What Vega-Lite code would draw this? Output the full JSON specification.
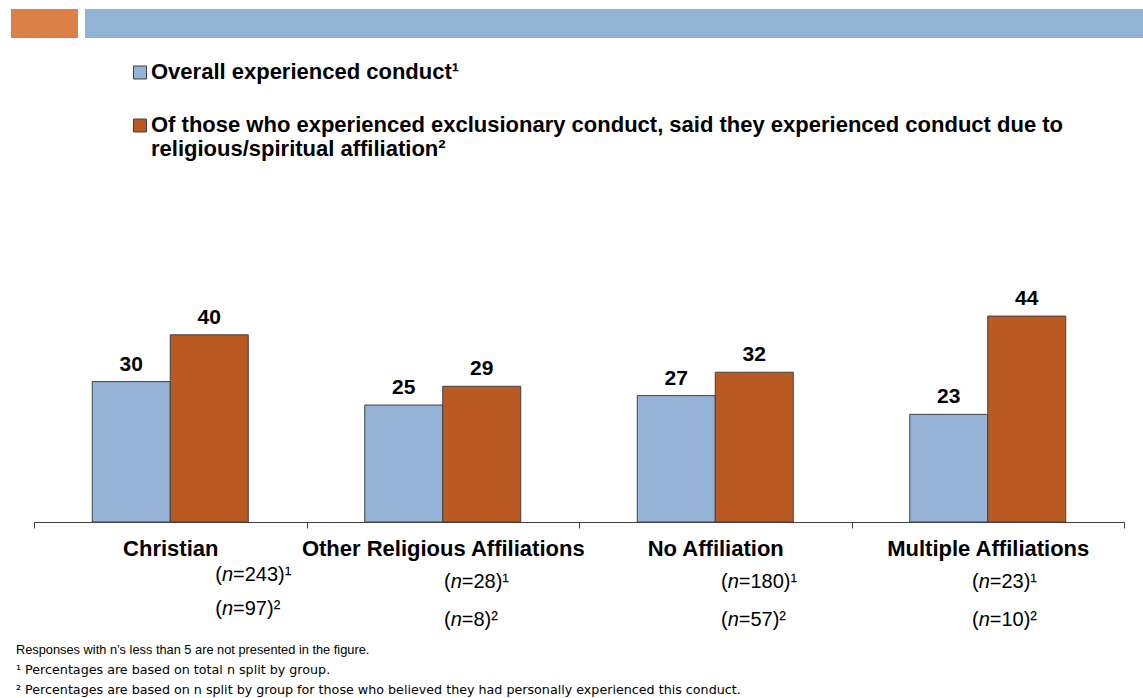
{
  "$schema": "https://vega.github.io/schema/vega-lite/v6.json",
  "autosize": {"type": "none"},
  "width": 1090,
  "height": 234,
  "padding": {"left": 34, "top": 288, "right": 19, "bottom": 176},
  "background": "white",
  "config": {"view": {"stroke": null}, "font": "Liberation Sans"},
  "title": {
    "text": "\u2002Responses with n\u2019s less than 5 are not presented in the figure.",
    "orient": "bottom",
    "anchor": "start",
    "frame": "group",
    "dx": -18,
    "offset": 14,
    "font": "Liberation Sans",
    "fontSize": 12.8,
    "fontWeight": "normal",
    "color": "black",
    "subtitle": [
      "\u00b9 Percentages are based on total n split by group.",
      "\u00b2 Percentages are based on n split by group for those who believed they had personally experienced this conduct."
    ],
    "subtitleFont": "DejaVu Sans",
    "subtitleFontSize": 12.7,
    "subtitleColor": "black",
    "subtitleLineHeight": 20,
    "subtitlePadding": 7
  },
  "datasets": {
    "rates": [
      {"group": "Christian", "series": "Overall experienced conduct\u00b9", "value": 30},
      {"group": "Christian", "series": "Of those who experienced exclusionary conduct, said they experienced conduct due to religious/spiritual affiliation\u00b2", "value": 40},
      {"group": "Other Religious Affiliations", "series": "Overall experienced conduct\u00b9", "value": 25},
      {"group": "Other Religious Affiliations", "series": "Of those who experienced exclusionary conduct, said they experienced conduct due to religious/spiritual affiliation\u00b2", "value": 29},
      {"group": "No Affiliation", "series": "Overall experienced conduct\u00b9", "value": 27},
      {"group": "No Affiliation", "series": "Of those who experienced exclusionary conduct, said they experienced conduct due to religious/spiritual affiliation\u00b2", "value": 32},
      {"group": "Multiple Affiliations", "series": "Overall experienced conduct\u00b9", "value": 23},
      {"group": "Multiple Affiliations", "series": "Of those who experienced exclusionary conduct, said they experienced conduct due to religious/spiritual affiliation\u00b2", "value": 44}
    ],
    "samples": [
      {"group": "Christian", "n_overall": 243, "n_conduct": 97},
      {"group": "Other Religious Affiliations", "n_overall": 28, "n_conduct": 8},
      {"group": "No Affiliation", "n_overall": 180, "n_conduct": 57},
      {"group": "Multiple Affiliations", "n_overall": 23, "n_conduct": 10}
    ]
  },
  "layer": [
    {
      "data": {"values": [{"part": "accent"}]},
      "mark": {"type": "rect", "color": "#DD8047", "x": -23, "x2": 44, "y": -279, "y2": -250},
      "encoding": {}
    },
    {
      "data": {"values": [{"part": "band"}]},
      "mark": {"type": "rect", "color": "#93B3D2", "x": 51, "x2": 1109, "y": -279, "y2": -250},
      "encoding": {}
    },
    {
      "data": {"name": "rates"},
      "mark": {"type": "bar", "stroke": "#404040", "strokeWidth": 1},
      "encoding": {
        "x": {
          "field": "group", "type": "nominal",
          "sort": ["Christian", "Other Religious Affiliations", "No Affiliation", "Multiple Affiliations"],
          "scale": {"domain": ["Christian", "Other Religious Affiliations", "No Affiliation", "Multiple Affiliations"], "paddingInner": 0, "paddingOuter": 0},
          "axis": {
            "title": null,
            "domainColor": "#404040",
            "tickColor": "#404040",
            "tickSize": 6,
            "tickBand": "extent",
            "labelFont": "Liberation Sans",
            "labelFontSize": 22,
            "labelFontWeight": "bold",
            "labelColor": "black",
            "labelBaseline": "alphabetic",
            "labelPadding": 27,
            "labelAngle": 0,
            "labelLimit": 400,
            "labelOverlap": false
          }
        },
        "xOffset": {
          "field": "series", "type": "nominal",
          "sort": ["Overall experienced conduct\u00b9", "Of those who experienced exclusionary conduct, said they experienced conduct due to religious/spiritual affiliation\u00b2"],
          "scale": {"paddingInner": 0, "paddingOuter": 0.747}
        },
        "y": {"field": "value", "type": "quantitative", "scale": {"domain": [0, 50]}, "axis": null},
        "color": {
          "field": "series", "type": "nominal",
          "sort": ["Overall experienced conduct\u00b9", "Of those who experienced exclusionary conduct, said they experienced conduct due to religious/spiritual affiliation\u00b2"],
          "scale": {"range": ["#95B3D7", "#BA5A23"]},
          "legend": {
            "orient": "none",
            "legendX": 95,
            "legendY": -220,
            "title": null,
            "direction": "vertical",
            "padding": 0,
            "symbolType": "M-1,-2H1V0H-1Z",
            "symbolSize": 169,
            "symbolStrokeColor": "#404040",
            "symbolStrokeWidth": 1,
            "symbolOpacity": 1,
            "labelFont": "Liberation Sans",
            "labelFontSize": 22,
            "labelFontWeight": "bold",
            "labelColor": "black",
            "labelBaseline": "alphabetic",
            "labelOffset": 0,
            "labelLimit": 1200,
            "rowPadding": 31,
            "labelExpr": "datum.label == 'Overall experienced conduct\u00b9' ? datum.label : ['Of those who experienced exclusionary conduct, said they experienced conduct due to', 'religious/spiritual affiliation\u00b2']"
          }
        }
      }
    },
    {
      "data": {"name": "rates"},
      "mark": {"type": "text", "baseline": "alphabetic", "dy": -11, "fontSize": 21, "fontWeight": "bold", "font": "Liberation Sans", "color": "black"},
      "encoding": {
        "x": {"field": "group", "type": "nominal", "sort": ["Christian", "Other Religious Affiliations", "No Affiliation", "Multiple Affiliations"]},
        "xOffset": {"field": "series", "type": "nominal", "sort": ["Overall experienced conduct\u00b9", "Of those who experienced exclusionary conduct, said they experienced conduct due to religious/spiritual affiliation\u00b2"]},
        "y": {"field": "value", "type": "quantitative"},
        "text": {"field": "value", "type": "quantitative"}
      }
    },
    {
      "data": {"name": "samples"},
      "transform": [
        {"filter": "datum.group === 'Christian'"},
        {"calculate": "'=' + datum.n_overall + ')\u00b9|=' + datum.n_conduct + ')\u00b2'", "as": "rest"}
      ],
      "encoding": {
        "x": {"field": "group", "type": "nominal", "sort": ["Christian", "Other Religious Affiliations", "No Affiliation", "Multiple Affiliations"]},
        "y": {"datum": 0, "type": "quantitative"}
      },
      "layer": [
        {"mark": {"type": "text", "text": "(|(", "lineBreak": "|", "align": "left", "baseline": "alphabetic", "dx": 45, "dy": 59, "lineHeight": 34, "fontSize": 20, "color": "black"}},
        {"mark": {"type": "text", "text": "n|n", "lineBreak": "|", "fontStyle": "italic", "align": "left", "baseline": "alphabetic", "dx": 51.7, "dy": 59, "lineHeight": 34, "fontSize": 20, "color": "black"}},
        {"mark": {"type": "text", "lineBreak": "|", "align": "left", "baseline": "alphabetic", "dx": 62.8, "dy": 59, "lineHeight": 34, "fontSize": 20, "color": "black"}, "encoding": {"text": {"field": "rest"}}}
      ]
    },
    {
      "data": {"name": "samples"},
      "transform": [
        {"filter": "datum.group === 'Other Religious Affiliations'"},
        {"calculate": "'=' + datum.n_overall + ')\u00b9|=' + datum.n_conduct + ')\u00b2'", "as": "rest"}
      ],
      "encoding": {
        "x": {"field": "group", "type": "nominal", "sort": ["Christian", "Other Religious Affiliations", "No Affiliation", "Multiple Affiliations"]},
        "y": {"datum": 0, "type": "quantitative"}
      },
      "layer": [
        {"mark": {"type": "text", "text": "(|(", "lineBreak": "|", "align": "left", "baseline": "alphabetic", "dx": 1.25, "dy": 66, "lineHeight": 38, "fontSize": 20, "color": "black"}},
        {"mark": {"type": "text", "text": "n|n", "lineBreak": "|", "fontStyle": "italic", "align": "left", "baseline": "alphabetic", "dx": 7.9, "dy": 66, "lineHeight": 38, "fontSize": 20, "color": "black"}},
        {"mark": {"type": "text", "lineBreak": "|", "align": "left", "baseline": "alphabetic", "dx": 19, "dy": 66, "lineHeight": 38, "fontSize": 20, "color": "black"}, "encoding": {"text": {"field": "rest"}}}
      ]
    },
    {
      "data": {"name": "samples"},
      "transform": [
        {"filter": "datum.group === 'No Affiliation'"},
        {"calculate": "'=' + datum.n_overall + ')\u00b9|=' + datum.n_conduct + ')\u00b2'", "as": "rest"}
      ],
      "encoding": {
        "x": {"field": "group", "type": "nominal", "sort": ["Christian", "Other Religious Affiliations", "No Affiliation", "Multiple Affiliations"]},
        "y": {"datum": 0, "type": "quantitative"}
      },
      "layer": [
        {"mark": {"type": "text", "text": "(|(", "lineBreak": "|", "align": "left", "baseline": "alphabetic", "dx": 5.75, "dy": 66, "lineHeight": 38, "fontSize": 20, "color": "black"}},
        {"mark": {"type": "text", "text": "n|n", "lineBreak": "|", "fontStyle": "italic", "align": "left", "baseline": "alphabetic", "dx": 12.4, "dy": 66, "lineHeight": 38, "fontSize": 20, "color": "black"}},
        {"mark": {"type": "text", "lineBreak": "|", "align": "left", "baseline": "alphabetic", "dx": 23.5, "dy": 66, "lineHeight": 38, "fontSize": 20, "color": "black"}, "encoding": {"text": {"field": "rest"}}}
      ]
    },
    {
      "data": {"name": "samples"},
      "transform": [
        {"filter": "datum.group === 'Multiple Affiliations'"},
        {"calculate": "'=' + datum.n_overall + ')\u00b9|=' + datum.n_conduct + ')\u00b2'", "as": "rest"}
      ],
      "encoding": {
        "x": {"field": "group", "type": "nominal", "sort": ["Christian", "Other Religious Affiliations", "No Affiliation", "Multiple Affiliations"]},
        "y": {"datum": 0, "type": "quantitative"}
      },
      "layer": [
        {"mark": {"type": "text", "text": "(|(", "lineBreak": "|", "align": "left", "baseline": "alphabetic", "dx": -15.75, "dy": 66, "lineHeight": 38, "fontSize": 20, "color": "black"}},
        {"mark": {"type": "text", "text": "n|n", "lineBreak": "|", "fontStyle": "italic", "align": "left", "baseline": "alphabetic", "dx": -9.1, "dy": 66, "lineHeight": 38, "fontSize": 20, "color": "black"}},
        {"mark": {"type": "text", "lineBreak": "|", "align": "left", "baseline": "alphabetic", "dx": 2, "dy": 66, "lineHeight": 38, "fontSize": 20, "color": "black"}, "encoding": {"text": {"field": "rest"}}}
      ]
    }
  ]
}
